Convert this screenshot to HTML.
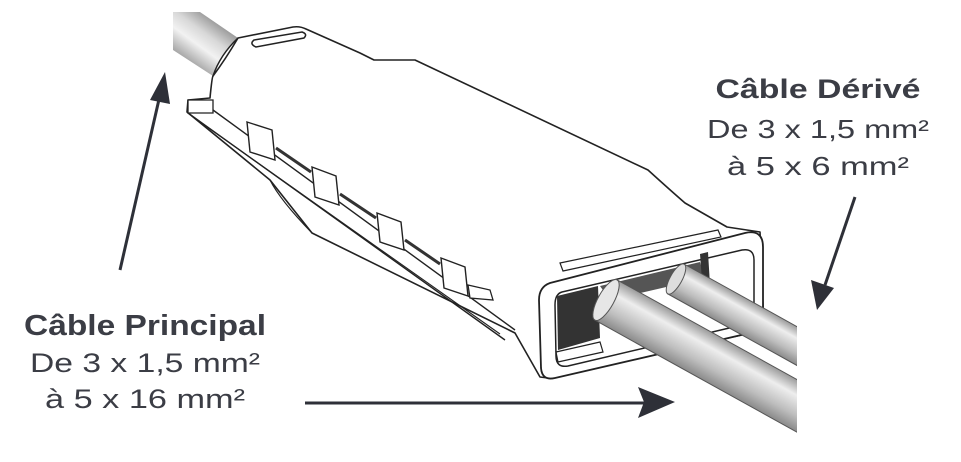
<!DOCTYPE html>
<html><head><meta charset="utf-8"><style>
html,body{margin:0;padding:0;background:#fff;width:961px;height:462px;overflow:hidden}
svg{display:block}
text{font-family:"Liberation Sans",sans-serif;fill:#3b3d45}
</style></head><body>
<svg width="961" height="462" viewBox="0 0 961 462" xmlns="http://www.w3.org/2000/svg">
<defs>
<linearGradient id="cv" x1="0" y1="0" x2="0" y2="1">
<stop offset="0" stop-color="#9a9a9a"/><stop offset="0.3" stop-color="#eeeeee"/><stop offset="0.7" stop-color="#bdbdbd"/><stop offset="1" stop-color="#8a8a8a"/>
</linearGradient>
<linearGradient id="ct" gradientUnits="userSpaceOnUse" x1="222" y1="22" x2="190" y2="66">
<stop offset="0" stop-color="#8e8e8e"/><stop offset="0.35" stop-color="#d8d8d8"/><stop offset="0.6" stop-color="#f2f2f2"/><stop offset="1" stop-color="#9a9a9a"/>
</linearGradient>
<clipPath id="cl"><rect x="0" y="0" width="797" height="462"/></clipPath>
</defs>
<!-- top-left cable -->
<path d="M173,12 L200,12 L238,38 Q220,55 213,76 L173,50 Z" fill="url(#ct)"/>
<!-- box body -->
<path d="M238,38 L293,27 Q300,26 306,29 L360,53 L374,60 L415,60 L648,170 Q670,190 685,203 L727,227 L760,232 L764,330 L548,378 L540,377 L515,333 L312,233 L270,180 L187,112 L188,100 L210,98 Q212,77 213,76 Q225,60 238,38 Z" fill="#fff" stroke="#222" stroke-width="1.6" stroke-linejoin="round"/>
<path d="M238,38 Q220,55 213,76" fill="none" stroke="#222" stroke-width="1.5"/>
<path d="M254,40 L302,32 Q308,34 304,38 L256,47 Q249,44 254,40 Z" fill="none" stroke="#222" stroke-width="1.5"/>
<!-- left connector strip -->
<path d="M188,100 L213,100 L213,113 L188,113 Z" fill="#fff" stroke="#222" stroke-width="1.3"/>
<path d="M188,113 L505,340 M213,110 L515,330" stroke="#222" stroke-width="1.4" fill="none"/>
<path d="M200,122 L500,334" stroke="#222" stroke-width="1.1"/>
<path d="M270,180 Q280,200 312,233" stroke="#222" stroke-width="1.2" fill="none"/>
<g fill="#fff" stroke="#222" stroke-width="1.4">
<path d="M247,122 L272,130 L275,160 L250,152 Z"/>
<path d="M312,167 L336,176 L339,205 L315,197 Z"/>
<path d="M377,213 L401,222 L404,250 L380,242 Z"/>
<path d="M441,258 L465,267 L468,296 L444,288 Z"/>
</g>
<g stroke="#333" stroke-width="3">
<path d="M276,148 L311,172"/><path d="M340,194 L376,218"/><path d="M405,240 L440,264"/>
</g>
<path d="M468,285 L490,290 L493,300 L470,298 Z" fill="#fff" stroke="#222" stroke-width="1.3"/>
<!-- end frame -->
<path d="M550,283 L745,233 Q763,229 763,247 L763,318 Q763,330 750,333 L555,378 Q542,381 541,368 L539,300 Q539,287 550,283 Z" fill="#fff" stroke="#222" stroke-width="1.8"/>
<path d="M562,292 L742,250 Q754,248 754,260 L754,312 Q754,322 742,325 L568,366 Q556,368 556,356 L555,305 Q555,294 562,292 Z" fill="#fff" stroke="#222" stroke-width="1.5"/>
<path d="M560,263 L718,230 L721,237 L563,271 Z" fill="#fff" stroke="#222" stroke-width="1.2"/>
<path d="M557,296 L598,286 L600,338 L558,350 Z" fill="#333"/>
<path d="M600,286 L700,262 L705,278 L610,300 Z" fill="#555"/>
<path d="M700,254 L708,252 L710,285 L702,280 Z" fill="#333"/>
<path d="M556,352 L600,342 L603,352 L558,362 Z" fill="none" stroke="#222" stroke-width="1.2"/>
<!-- derived cables -->
<g clip-path="url(#cl)">
<g transform="translate(676,279) rotate(29)"><rect x="0" y="-17" width="180" height="34" fill="url(#cv)" stroke="#555" stroke-width="1"/><ellipse cx="0" cy="0" rx="6" ry="17" fill="#ddd" stroke="#555"/></g>
<g transform="translate(606,300) rotate(29)"><rect x="0" y="-23" width="240" height="46" fill="url(#cv)" stroke="#555" stroke-width="1"/><ellipse cx="0" cy="0" rx="8" ry="23" fill="#e6e6e6" stroke="#555"/></g>
</g>
<!-- arrows -->
<g stroke="#2e3038" stroke-width="3" fill="#2e3038">
<line x1="120" y1="270" x2="160" y2="95"/>
<path d="M165,72 L150,100 L170,104 Z" stroke="none"/>
<line x1="305" y1="403" x2="650" y2="403"/>
<path d="M675,402 L638,387 L644,402 L638,418 Z" stroke="none"/>
<line x1="855" y1="197" x2="825" y2="285"/>
<path d="M817,310 L811,280 L834,288 Z" stroke="none"/>
</g>
<!-- text -->
<text x="145" y="335" font-size="29" font-weight="bold" text-anchor="middle" textLength="242" lengthAdjust="spacingAndGlyphs">Câble Principal</text>
<text x="145" y="372" font-size="27" text-anchor="middle" textLength="230" lengthAdjust="spacingAndGlyphs">De 3 x 1,5 mm²</text>
<text x="145" y="408" font-size="27" text-anchor="middle" textLength="200" lengthAdjust="spacingAndGlyphs">à 5 x 16 mm²</text>
<text x="818" y="98" font-size="27" font-weight="bold" text-anchor="middle" textLength="205" lengthAdjust="spacingAndGlyphs">Câble Dérivé</text>
<text x="818" y="138" font-size="26" text-anchor="middle" textLength="222" lengthAdjust="spacingAndGlyphs">De 3 x 1,5 mm²</text>
<text x="818" y="175" font-size="26" text-anchor="middle" textLength="182" lengthAdjust="spacingAndGlyphs">à 5 x 6 mm²</text>
</svg>
</body></html>
